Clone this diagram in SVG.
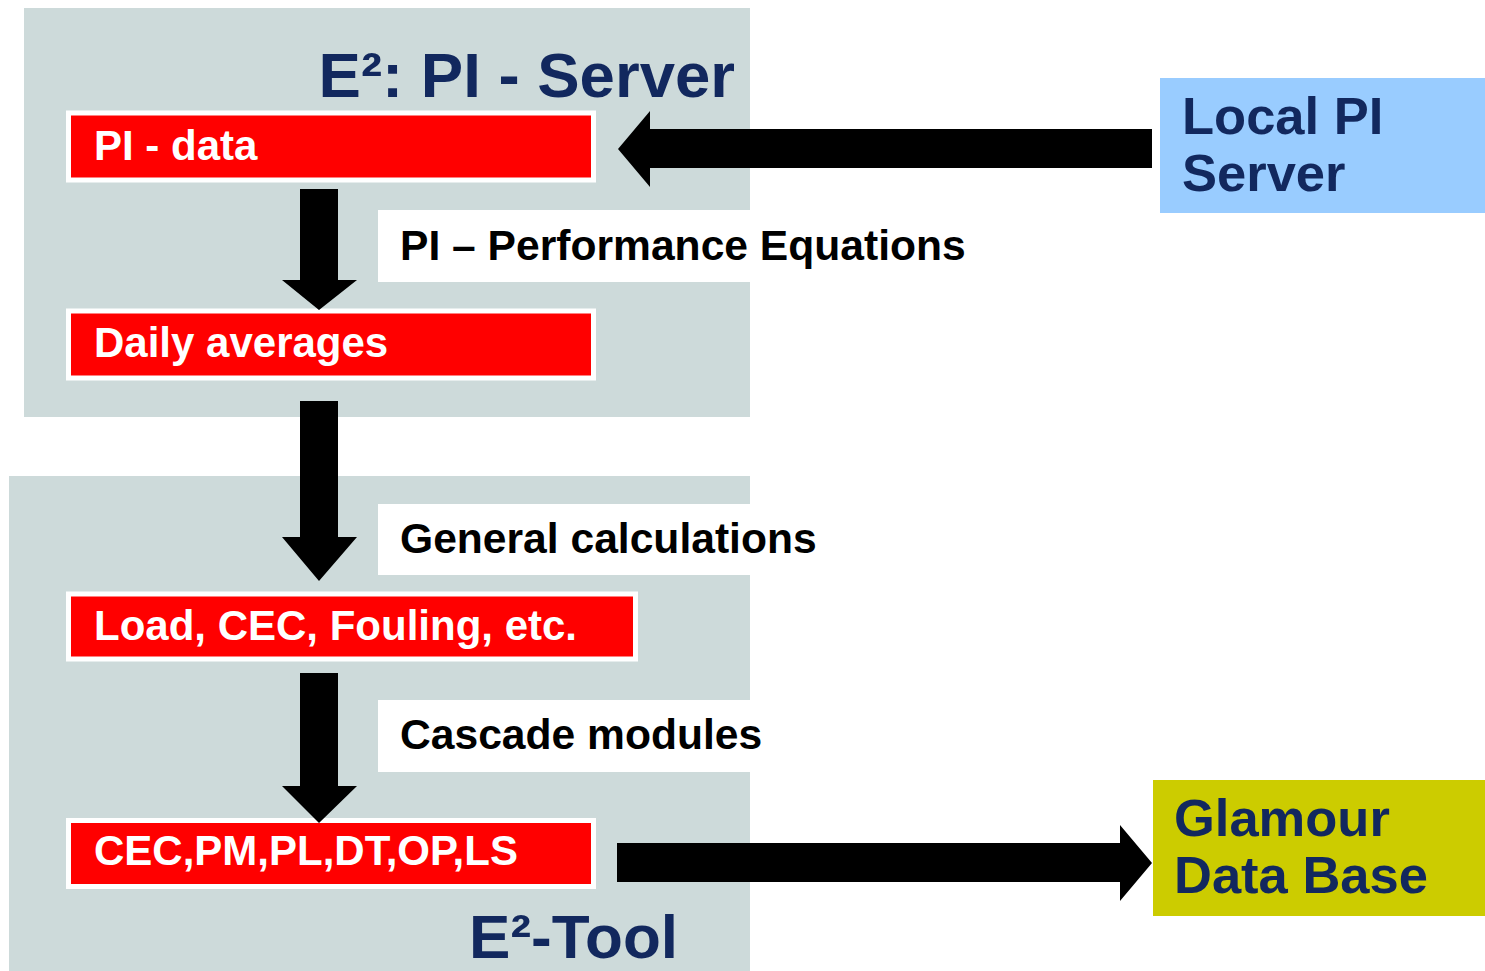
<svg xmlns="http://www.w3.org/2000/svg" width="1485" height="971" viewBox="0 0 1485 971">
<style>
.panel{fill:#cddada}
.red{fill:#ff0000;stroke:#ffffff;stroke-width:5}
.wt{font-family:"Liberation Sans",Arial,sans-serif;font-weight:bold;font-size:42px;fill:#ffffff}
.bt{font-family:"Liberation Sans",Arial,sans-serif;font-weight:bold;font-size:42.6px;fill:#000000}
.nt{font-family:"Liberation Sans",Arial,sans-serif;font-weight:bold;fill:#12285e}
.lbl{fill:#ffffff}
.arr{fill:#000000}
</style>
<rect width="1485" height="971" fill="#ffffff"/>
<g id="pi-server-panel">
<rect class="panel" x="24" y="8" width="726" height="409"/>
<text class="nt" x="735" y="97" font-size="63.5" text-anchor="end">E²: PI - Server</text>
</g>
<g id="e2-tool-panel">
<rect class="panel" x="9" y="476" width="741" height="495"/>
<text class="nt" x="678" y="958" font-size="62" text-anchor="end">E²-Tool</text>
</g>
<g id="pi-data">
<rect class="red" x="68.5" y="113" width="525" height="67"/>
<text class="wt" x="94" y="160">PI - data</text>
</g>
<g id="daily-averages">
<rect class="red" x="68.5" y="311" width="525" height="67"/>
<text class="wt" x="94" y="357">Daily averages</text>
</g>
<g id="load-cec">
<rect class="red" x="68.5" y="594" width="567" height="65"/>
<text class="wt" x="94" y="640">Load, CEC, Fouling, etc.</text>
</g>
<g id="cec-pm">
<rect class="red" x="68.5" y="820.5" width="525" height="66"/>
<text class="wt" x="94" y="865">CEC,PM,PL,DT,OP,LS</text>
</g>
<g id="local-pi-server">
<rect x="1160" y="78" width="325" height="135" fill="#99ccff"/>
<text class="nt" font-size="52.5"><tspan x="1182" y="134">Local PI</tspan><tspan x="1182" y="191">Server</tspan></text>
</g>
<g id="glamour-db">
<rect x="1153" y="780" width="332" height="136" fill="#cccc00"/>
<text class="nt" font-size="52.5"><tspan x="1174" y="836">Glamour</tspan><tspan x="1174" y="893">Data Base</tspan></text>
</g>
<g id="connectors">
<polygon class="arr" points="1152,129 650,129 650,111 618,149 650,187 650,168 1152,168"/>
<polygon class="arr" points="617,843 1120,843 1120,825 1152,863 1120,901 1120,882 617,882"/>
<polygon class="arr" points="300,189 338,189 338,280 357,280 319,310 282,280 300,280"/>
<polygon class="arr" points="300,401 338,401 338,537 357,537 319,581 282,537 300,537"/>
<polygon class="arr" points="300,673 338,673 338,786 357,786 319,823 282,786 300,786"/>
<g id="label-pe">
<rect class="lbl" x="378" y="210" width="372" height="72"/>
<text class="bt" x="400" y="260">PI – Performance Equations</text>
</g>
<g id="label-gc">
<rect class="lbl" x="378" y="504" width="372" height="71"/>
<text class="bt" x="400" y="553">General calculations</text>
</g>
<g id="label-cm">
<rect class="lbl" x="378" y="700" width="372" height="72"/>
<text class="bt" x="400" y="749">Cascade modules</text>
</g>
</g>
</svg>
